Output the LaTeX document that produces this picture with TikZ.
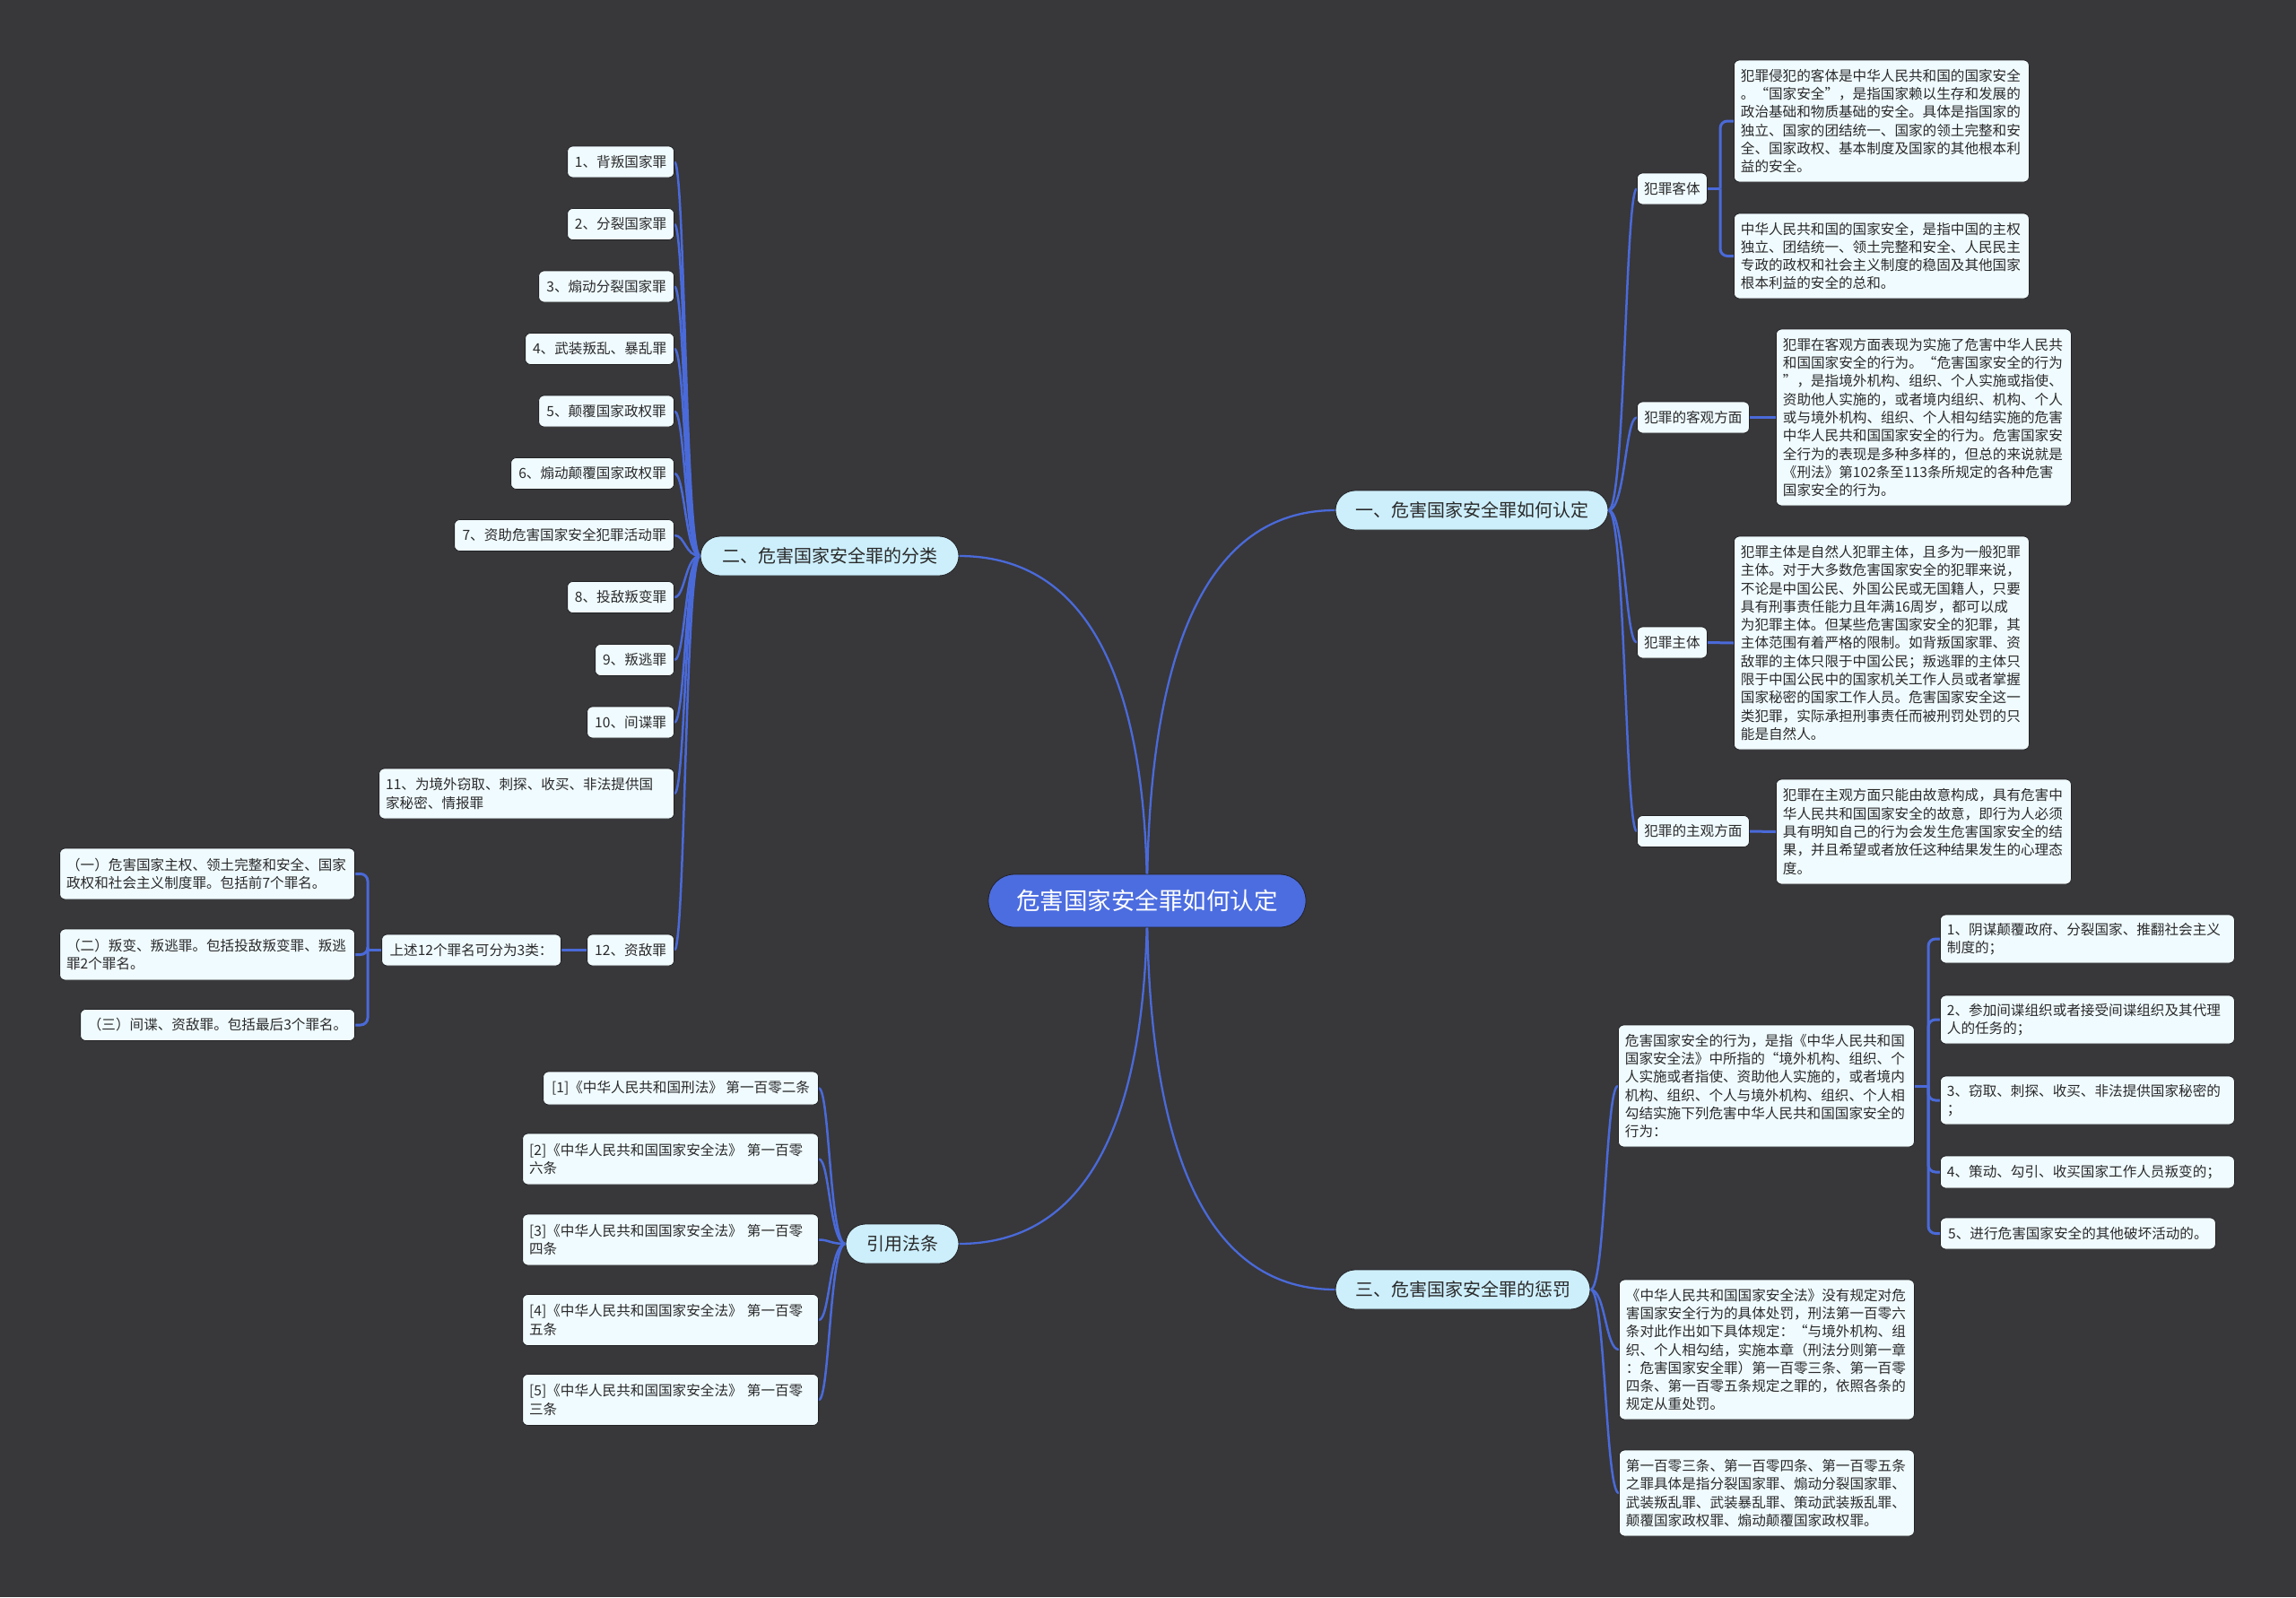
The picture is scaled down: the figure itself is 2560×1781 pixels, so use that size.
\documentclass[tikz,border=0pt]{standalone}
\usepackage{fontspec}
\setmainfont{Noto Sans CJK SC}
\usetikzlibrary{backgrounds}
\setlength{\parindent}{0pt}
\definecolor{bgc}{HTML}{38373A}
\definecolor{linkc}{HTML}{4A6AD9}
\definecolor{rootc}{HTML}{4C6DE0}
\definecolor{branchc}{HTML}{CDEFFC}
\definecolor{leafc}{HTML}{F0FBFF}
\definecolor{txtc}{HTML}{2A2A2A}
\definecolor{edgec}{HTML}{222224}
\begin{document}
\begin{tikzpicture}[x=1pt,y=-1pt,
  rootnode/.style={fill=rootc,draw=edgec,line width=0.8pt,text=white,rounded corners=29pt,inner sep=0pt,minimum width=354pt,minimum height=59pt,font=\fontsize{26.5}{30}\selectfont},
  branchnode/.style={fill=branchc,draw=edgec,line width=0.8pt,text=txtc,rounded corners=22pt,inner sep=0pt,minimum height=44pt,font=\fontsize{20}{24}\selectfont},
  labnode/.style={fill=leafc,draw=edgec,line width=0.8pt,text=txtc,rounded corners=6pt,inner sep=0pt,minimum height=35pt,font=\fontsize{15.6}{20.3}\selectfont},
  paranode/.style={fill=leafc,draw=edgec,line width=0.8pt,text=txtc,rounded corners=6pt,inner xsep=7.5pt,inner ysep=0pt,align=left,font=\fontsize{15.6}{20.3}\selectfont},
  rootlink/.style={draw=linkc,line width=2.3pt},
  link/.style={draw=linkc,line width=2.5pt},
  brk/.style={draw=linkc,line width=3pt,rounded corners=8pt},
]
\useasboundingbox (0,0) rectangle (2560,1781);

% root and branches
\node[rootnode] (c) at (1279,1004.5) {危害国家安全罪如何认定};
\node[branchnode,minimum width=304pt] (b1) at (1641,569) {一、危害国家安全罪如何认定};
\node[branchnode,minimum width=288pt] (b2) at (925,620) {二、危害国家安全罪的分类};
\node[branchnode,minimum width=284pt] (b3) at (1631,1438) {三、危害国家安全罪的惩罚};
\node[branchnode,minimum width=126pt] (b4) at (1006,1387) {引用法条};

% branch 1
\node[labnode,minimum width=78pt,anchor=west] (k1) at (1825,210.5) {犯罪客体};
\node[labnode,minimum width=125pt,anchor=west] (k2) at (1825,465.5) {犯罪的客观方面};
\node[labnode,minimum width=78pt,anchor=west] (k3) at (1825,716.5) {犯罪主体};
\node[labnode,minimum width=125pt,anchor=west] (k4) at (1825,927) {犯罪的主观方面};

\node[paranode,text width=314pt,minimum height=136pt,anchor=west] (A1) at (1933,135) {犯罪侵犯的客体是中华人民共和国的国家安全\\。“国家安全”，是指国家赖以生存和发展的\\政治基础和物质基础的安全。具体是指国家的\\独立、国家的团结统一、国家的领土完整和安\\全、国家政权、基本制度及国家的其他根本利\\益的安全。};
\node[paranode,text width=314pt,minimum height=95pt,anchor=west] (A2) at (1933,285.5) {中华人民共和国的国家安全，是指中国的主权\\独立、团结统一、领土完整和安全、人民民主\\专政的政权和社会主义制度的稳固及其他国家\\根本利益的安全的总和。};
\node[paranode,text width=314pt,minimum height=197pt,anchor=west] (B) at (1980,465.5) {犯罪在客观方面表现为实施了危害中华人民共\\和国国家安全的行为。“危害国家安全的行为\\”，是指境外机构、组织、个人实施或指使、\\资助他人实施的，或者境内组织、机构、个人\\或与境外机构、组织、个人相勾结实施的危害\\中华人民共和国国家安全的行为。危害国家安\\全行为的表现是多种多样的，但总的来说就是\\《刑法》第102条至113条所规定的各种危害\\国家安全的行为。};
\node[paranode,text width=314pt,minimum height=238pt,anchor=west] (C) at (1933,717) {犯罪主体是自然人犯罪主体，且多为一般犯罪\\主体。对于大多数危害国家安全的犯罪来说，\\不论是中国公民、外国公民或无国籍人，只要\\具有刑事责任能力且年满16周岁，都可以成\\为犯罪主体。但某些危害国家安全的犯罪，其\\主体范围有着严格的限制。如背叛国家罪、资\\敌罪的主体只限于中国公民；叛逃罪的主体只\\限于中国公民中的国家机关工作人员或者掌握\\国家秘密的国家工作人员。危害国家安全这一\\类犯罪，实际承担刑事责任而被刑罚处罚的只\\能是自然人。};
\node[paranode,text width=314pt,minimum height=117pt,anchor=west] (D) at (1980,927.5) {犯罪在主观方面只能由故意构成，具有危害中\\华人民共和国国家安全的故意，即行为人必须\\具有明知自己的行为会发生危害国家安全的结\\果，并且希望或者放任这种结果发生的心理态\\度。};

% branch 2
\node[labnode,minimum width=119pt,anchor=east] (i1) at (752,180.5) {1、背叛国家罪};
\node[labnode,minimum width=119pt,anchor=east] (i2) at (752,250) {2、分裂国家罪};
\node[labnode,minimum width=151pt,anchor=east] (i3) at (752,319.5) {3、煽动分裂国家罪};
\node[labnode,minimum width=166pt,anchor=east] (i4) at (752,389) {4、武装叛乱、暴乱罪};
\node[labnode,minimum width=151pt,anchor=east] (i5) at (752,458.5) {5、颠覆国家政权罪};
\node[labnode,minimum width=182pt,anchor=east] (i6) at (752,528) {6、煽动颠覆国家政权罪};
\node[labnode,minimum width=245pt,anchor=east] (i7) at (752,597) {7、资助危害国家安全犯罪活动罪};
\node[labnode,minimum width=119pt,anchor=east] (i8) at (752,666) {8、投敌叛变罪};
\node[labnode,minimum width=88pt,anchor=east] (i9) at (752,736) {9、叛逃罪};
\node[labnode,minimum width=97pt,anchor=east] (i10) at (752,805.5) {10、间谍罪};
\node[paranode,text width=314pt,minimum height=56pt,anchor=east] (i11) at (752,885) {11、为境外窃取、刺探、收买、非法提供国\\家秘密、情报罪};
\node[labnode,minimum width=97pt,anchor=east] (i12) at (752,1059.5) {12、资敌罪};
\node[labnode,minimum width=200pt,anchor=east] (u) at (626,1059.5) {上述12个罪名可分为3类：};
\node[paranode,text width=314pt,minimum height=57pt,anchor=east] (L1) at (396,974.5) {（一）危害国家主权、领土完整和安全、国家\\政权和社会主义制度罪。包括前7个罪名。};
\node[paranode,text width=314pt,minimum height=57pt,anchor=east] (L2) at (396,1064.5) {（二）叛变、叛逃罪。包括投敌叛变罪、叛逃\\罪2个罪名。};
\node[labnode,minimum width=306pt,anchor=east] (L3) at (396,1143) {（三）间谍、资敌罪。包括最后3个罪名。};

% branch 4
\node[labnode,minimum width=307pt,minimum height=37pt,anchor=east] (r1) at (913,1213.5) {[1]《中华人民共和国刑法》~第一百零二条};
\node[paranode,text width=315pt,minimum height=57pt,anchor=east] (r2) at (913,1292.5) {[2]《中华人民共和国国家安全法》~第一百零\\六条};
\node[paranode,text width=315pt,minimum height=57pt,anchor=east] (r3) at (913,1382.5) {[3]《中华人民共和国国家安全法》~第一百零\\四条};
\node[paranode,text width=315pt,minimum height=57pt,anchor=east] (r4) at (913,1472) {[4]《中华人民共和国国家安全法》~第一百零\\五条};
\node[paranode,text width=315pt,minimum height=57pt,anchor=east] (r5) at (913,1561) {[5]《中华人民共和国国家安全法》~第一百零\\三条};

% branch 3
\node[paranode,text width=315pt,minimum height=136pt,anchor=west] (E) at (1804,1211) {危害国家安全的行为，是指《中华人民共和国\\国家安全法》中所指的“境外机构、组织、个\\人实施或者指使、资助他人实施的，或者境内\\机构、组织、个人与境外机构、组织、个人相\\勾结实施下列危害中华人民共和国国家安全的\\行为：};
\node[paranode,text width=314pt,minimum height=156pt,anchor=west] (F) at (1805,1505) {《中华人民共和国国家安全法》没有规定对危\\害国家安全行为的具体处罚，刑法第一百零六\\条对此作出如下具体规定：“与境外机构、组\\织、个人相勾结，实施本章（刑法分则第一章\\：危害国家安全罪）第一百零三条、第一百零\\四条、第一百零五条规定之罪的，依照各条的\\规定从重处罚。};
\node[paranode,text width=314pt,minimum height=96pt,anchor=west] (G) at (1805,1665) {第一百零三条、第一百零四条、第一百零五条\\之罪具体是指分裂国家罪、煽动分裂国家罪、\\武装叛乱罪、武装暴乱罪、策动武装叛乱罪、\\颠覆国家政权罪、煽动颠覆国家政权罪。};
\node[paranode,text width=313pt,minimum height=54pt,anchor=west] (s1) at (2163,1047) {1、阴谋颠覆政府、分裂国家、推翻社会主义\\制度的；};
\node[paranode,text width=313pt,minimum height=54pt,anchor=west] (s2) at (2163,1137) {2、参加间谍组织或者接受间谍组织及其代理\\人的任务的；};
\node[paranode,text width=313pt,minimum height=54pt,anchor=west] (s3) at (2163,1227) {3、窃取、刺探、收买、非法提供国家秘密的\\；};
\node[paranode,text width=313pt,minimum height=36pt,anchor=west] (s4) at (2163,1307) {4、策动、勾引、收买国家工作人员叛变的；};
\node[labnode,minimum width=307pt,anchor=west] (s5) at (2163,1375.5) {5、进行危害国家安全的其他破坏活动的。};

% helper coordinates for vertical runs
\coordinate (v1) at (1812,0);
\coordinate (v2) at (764,0);
\coordinate (v3) at (1790,0);
\coordinate (v4) at (925,0);
\coordinate (w1) at (1918,0);
\coordinate (w2) at (410,0);
\coordinate (w3) at (2150,0);

\begin{pgfonlayer}{background}
\fill[bgc] (0,0) rectangle (2560,1781);
% root links
\draw[rootlink] (c.center) .. controls (1279,760) and (1330,569) .. (b1.west);
\draw[rootlink] (c.center) .. controls (1279,789) and (1228,620) .. (b2.east);
\draw[rootlink] (c.center) .. controls (1279,1249) and (1330,1438) .. (b3.west);
\draw[rootlink] (c.center) .. controls (1279,1218.5) and (1228,1387) .. (b4.east);
% branch links
\foreach \n in {k1,k2,k3,k4}
  \draw[link] (b1.east) .. controls (v1 |- b1.east) and (v1 |- \n.west) .. (\n.west);
\foreach \n in {i1,i2,i3,i4,i5,i6,i7,i8,i9,i10,i11,i12}
  \draw[link] (b2.west) .. controls (v2 |- b2.west) and (v2 |- \n.east) .. (\n.east);
\foreach \n in {E,F,G}
  \draw[link] (b3.east) .. controls (v3 |- b3.east) and (v3 |- \n.west) .. (\n.west);
\foreach \n in {r1,r2,r3,r4,r5}
  \draw[link] (b4.west) .. controls (v4 |- b4.west) and (v4 |- \n.east) .. (\n.east);
% brackets
\draw[brk] (k1.east) -- (w1 |- k1.east);
\draw[brk] (w1 |- k1.east) -- (w1 |- A1.west) -- (A1.west);
\draw[brk] (w1 |- k1.east) -- (w1 |- A2.west) -- (A2.west);
\draw[brk] (k2.east) -- (B.west);
\draw[brk] (k3.east) -- (C.west);
\draw[brk] (k4.east) -- (D.west);
\draw[brk] (i12.west) -- (u.east);
\draw[brk] (u.west) -- (w2 |- u.west);
\foreach \n in {L1,L2,L3}
  \draw[brk] (w2 |- u.west) -- (w2 |- \n.east) -- (\n.east);
\draw[brk] (E.east) -- (w3 |- E.east);
\foreach \n in {s1,s2,s3,s4,s5}
  \draw[brk] (w3 |- E.east) -- (w3 |- \n.west) -- (\n.west);
\end{pgfonlayer}
\end{tikzpicture}
\end{document}
